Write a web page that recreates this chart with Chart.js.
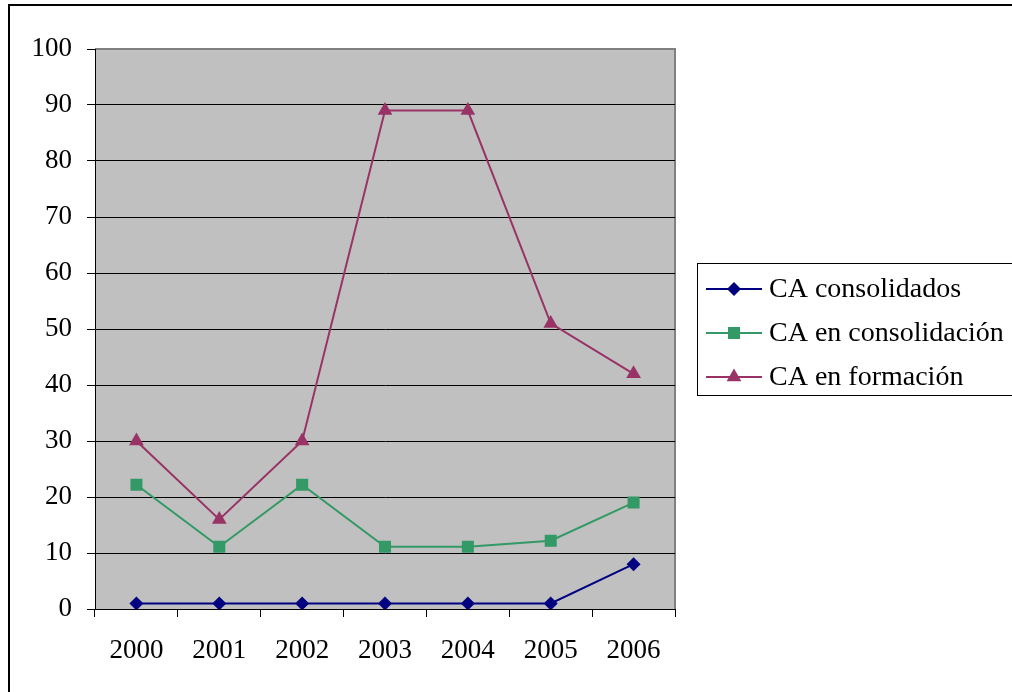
<!DOCTYPE html>
<html>
<head>
<meta charset="utf-8">
<script src="https://cdn.jsdelivr.net/npm/chart.js@4/dist/chart.umd.min.js"></script>
<style>
html,body{margin:0;padding:0;background:#fff;}
#wrap{width:1012px;height:692px;position:relative;}
</style>
</head>
<body>
<div id="wrap"><canvas id="c" width="1012" height="692"></canvas></div>
<script>
const years = ['2000','2001','2002','2003','2004','2005','2006'];
const consolidados = [1, 1, 1, 1, 1, 1, 8];
const enConsolidacion = [22.2, 11.1, 22.2, 11.1, 11.1, 12.2, 19];
const enFormacion = [30, 16, 30, 89, 89, 51, 42];
const seriesNames = ['CA consolidados', 'CA en consolidación', 'CA en formación'];
const yTicks = [0, 10, 20, 30, 40, 50, 60, 70, 80, 90, 100];

const FONT = '"Liberation Serif", "Times New Roman", serif';
const colors = ['#000080', '#339966', '#993366'];

function drawMarker(ctx, style, x, y, r, color) {
  ctx.save();
  ctx.fillStyle = color;
  ctx.beginPath();
  if (style === 'rectRot') {
    ctx.moveTo(x, y - r); ctx.lineTo(x + r, y); ctx.lineTo(x, y + r); ctx.lineTo(x - r, y);
  } else if (style === 'rect') {
    const s = Math.SQRT1_2 * r;
    ctx.rect(x - s, y - s, 2 * s, 2 * s);
  } else {
    const a = -Math.PI / 2;
    for (let i = 0; i < 3; i++) {
      const ang = a + i * 2 * Math.PI / 3;
      const px = x + Math.cos(ang) * r, py = y + Math.sin(ang) * r;
      if (i === 0) ctx.moveTo(px, py); else ctx.lineTo(px, py);
    }
  }
  ctx.closePath();
  ctx.fill();
  ctx.restore();
}

const framePlugin = {
  id: 'frame',
  beforeDraw(chart) {
    const ctx = chart.ctx, a = chart.chartArea;
    ctx.save();
    ctx.fillStyle = '#ffffff';
    ctx.fillRect(0, 0, chart.width, chart.height);
    ctx.strokeStyle = '#000000';
    ctx.lineWidth = 2;
    ctx.strokeRect(9, 5, 1010, 700);
    ctx.fillStyle = '#C0C0C0';
    ctx.fillRect(a.left, a.top, a.right - a.left, a.bottom - a.top);
    ctx.strokeStyle = '#808080';
    ctx.lineWidth = 2;
    ctx.beginPath();
    ctx.moveTo(a.left, a.top); ctx.lineTo(a.right, a.top); ctx.lineTo(a.right, a.bottom);
    ctx.stroke();
    ctx.restore();
  },
  afterDraw(chart) {
    const ctx = chart.ctx;
    ctx.save();
    ctx.strokeStyle = '#000000';
    ctx.lineWidth = 1;
    ctx.strokeRect(697.5, 263.5, 400, 132);
    const rows = [289, 333, 377];
    ctx.font = '28px ' + FONT;
    ctx.textBaseline = 'middle';
    ctx.textAlign = 'left';
    chart.data.datasets.forEach((ds, i) => {
      const y = rows[i];
      ctx.strokeStyle = ds.borderColor;
      ctx.lineWidth = 2;
      ctx.beginPath();
      ctx.moveTo(706, y); ctx.lineTo(762, y);
      ctx.stroke();
      drawMarker(ctx, ds.pointStyle, 734, y, ds.pointRadius, ds.pointBackgroundColor);
      ctx.fillStyle = '#000000';
      ctx.fillText(ds.label, 769, y + 1);
    });
    ctx.restore();
  }
};

new Chart(document.getElementById('c'), {
  type: 'line',
  data: {
    labels: years,
    datasets: [
      { label: seriesNames[0], data: consolidados, borderColor: colors[0], backgroundColor: colors[0],
        pointBackgroundColor: colors[0], pointBorderColor: colors[0], pointBorderWidth: 0,
        pointStyle: 'rectRot', pointRadius: 7, borderWidth: 2, tension: 0 },
      { label: seriesNames[1], data: enConsolidacion, borderColor: colors[1], backgroundColor: colors[1],
        pointBackgroundColor: colors[1], pointBorderColor: colors[1], pointBorderWidth: 0,
        pointStyle: 'rect', pointRadius: 8.5, borderWidth: 2, tension: 0 },
      { label: seriesNames[2], data: enFormacion, borderColor: colors[2], backgroundColor: colors[2],
        pointBackgroundColor: colors[2], pointBorderColor: colors[2], pointBorderWidth: 0,
        pointStyle: 'triangle', pointRadius: 8.5, borderWidth: 2, tension: 0 }
    ]
  },
  options: {
    responsive: false,
    animation: false,
    devicePixelRatio: 1,
    layout: { padding: { left: 0, top: 49, right: 337, bottom: 0 } },
    plugins: { legend: { display: false }, tooltip: { enabled: false } },
    scales: {
      x: {
        offset: true,
        grid: { offset: true, drawOnChartArea: false, drawTicks: true, tickLength: 8, tickColor: '#000000', lineWidth: 1 },
        border: { display: true, color: '#000000', width: 1 },
        ticks: { color: '#000000', font: { family: FONT, size: 27 }, padding: 18, maxRotation: 0 },
        afterFit(s) { s.height = 83; }
      },
      y: {
        min: 0, max: 100,
        afterBuildTicks(s) { s.ticks = yTicks.map(v => ({ value: v })); },
        grid: {
          color: ctx => (ctx.tick && ctx.tick.value === 100) ? 'rgba(0,0,0,0)' : '#000000',
          tickColor: '#000000', tickLength: 8, lineWidth: 1
        },
        border: { display: true, color: '#000000', width: 1 },
        ticks: { color: '#000000', font: { family: FONT, size: 27 }, padding: 15 },
        afterFit(s) { s.width = 95; }
      }
    }
  },
  plugins: [framePlugin]
});
</script>
</body>
</html>
